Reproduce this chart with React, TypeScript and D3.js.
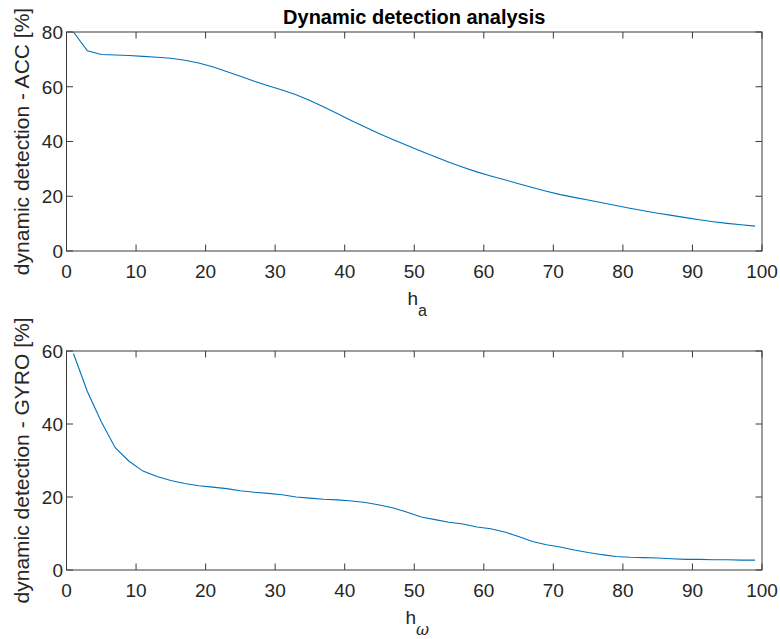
import React from "react";
import * as d3 from "d3";

// Threshold values h (shared by both panels)
const hValues = [
  1, 3, 5, 7, 9, 11, 13, 15, 17, 19, 21, 23, 25, 27, 29, 31, 33, 35, 37, 39,
  41, 43, 45, 47, 49, 51, 53, 55, 57, 59, 61, 63, 65, 67, 69, 71, 73, 75, 77, 79,
  81, 83, 85, 87, 89, 91, 93, 95, 97, 99,
];

// Dynamic detection rate [%] using the accelerometer threshold h_a
const accDetection = [
  80.0, 73.1, 71.8, 71.6, 71.4, 71.1, 70.8, 70.4, 69.7, 68.7,
  67.3, 65.6, 63.8, 62.0, 60.4, 58.8, 57.1, 55.0, 52.6, 50.1,
  47.6, 45.2, 42.8, 40.6, 38.5, 36.4, 34.4, 32.4, 30.6, 28.9,
  27.4, 26.0, 24.6, 23.2, 21.8, 20.6, 19.6, 18.6, 17.6, 16.6,
  15.6, 14.7, 13.8, 13.0, 12.2, 11.4, 10.7, 10.1, 9.6, 9.1,
];

// Dynamic detection rate [%] using the gyroscope threshold h_ω
const gyroDetection = [
  59.3, 48.9, 40.6, 33.5, 29.8, 27.1, 25.6, 24.5, 23.7, 23.1,
  22.7, 22.3, 21.7, 21.3, 21.0, 20.6, 20.0, 19.7, 19.4, 19.2,
  18.9, 18.5, 17.8, 17.0, 15.8, 14.5, 13.8, 13.1, 12.6, 11.8,
  11.3, 10.4, 9.2, 7.8, 6.9, 6.3, 5.5, 4.8, 4.2, 3.7,
  3.5, 3.4, 3.3, 3.1, 2.9, 2.9, 2.8, 2.8, 2.7, 2.7,
];

const xTicks = [0, 10, 20, 30, 40, 50, 60, 70, 80, 90, 100];
const accTicks = [0, 20, 40, 60, 80];
const gyroTicks = [0, 20, 40, 60];

const W = 780;
const H = 639;
const FONT = '"Liberation Sans", Arial, Helvetica, sans-serif';
const INK = "#262626";
const AXIS = "#3a3a3a";
const LINE = "#0072BD";
const TICK_LEN = 6.5;

const LEFT = 66.5;
const RIGHT = 762;

type PanelProps = {
  top: number;
  bottom: number;
  yMax: number;
  yTicks: number[];
  values: number[];
  yLabel: string;
  xSub: string;
  subItalic?: boolean;
  subFont: string;
};

function Panel({ top, bottom, yMax, yTicks, values, yLabel, xSub, subItalic, subFont }: PanelProps) {
  const x = d3.scaleLinear().domain([0, 100]).range([LEFT, RIGHT]);
  const y = d3.scaleLinear().domain([0, yMax]).range([bottom, top]);
  const line = d3
    .line<number>()
    .x((_, i) => x(hValues[i]))
    .y((d) => y(d));
  const midY = (top + bottom) / 2;
  const midX = (LEFT + RIGHT) / 2;

  return (
    <g>
      <path d={line(values) ?? ""} fill="none" stroke={LINE} strokeWidth={1.1} />
      {/* box */}
      <rect
        x={LEFT}
        y={top}
        width={RIGHT - LEFT}
        height={bottom - top}
        fill="none"
        stroke={AXIS}
        strokeWidth={1}
      />
      {/* x ticks, bottom and top, pointing inward */}
      {xTicks.map((t) => (
        <g key={`x${t}`}>
          <line x1={x(t)} x2={x(t)} y1={bottom} y2={bottom - TICK_LEN} stroke={AXIS} />
          <line x1={x(t)} x2={x(t)} y1={top} y2={top + TICK_LEN} stroke={AXIS} />
          <text
            x={x(t)}
            y={bottom + 27}
            textAnchor="middle"
            fontFamily={FONT}
            fontSize={19}
            fill={INK}
          >
            {t}
          </text>
        </g>
      ))}
      {/* y ticks, left and right */}
      {yTicks.map((t) => (
        <g key={`y${t}`}>
          <line x1={LEFT} x2={LEFT + TICK_LEN} y1={y(t)} y2={y(t)} stroke={AXIS} />
          <line x1={RIGHT} x2={RIGHT - TICK_LEN} y1={y(t)} y2={y(t)} stroke={AXIS} />
          <text
            x={LEFT - 3.5}
            y={y(t)}
            dy="0.36em"
            textAnchor="end"
            fontFamily={FONT}
            fontSize={19}
            fill={INK}
          >
            {t}
          </text>
        </g>
      ))}
      {/* x label h with subscript */}
      <text x={midX + 3} y={bottom + 54} textAnchor="middle" fontFamily={FONT} fontSize={19} fill={INK}>
        <tspan>h</tspan>
        <tspan
          dy={11}
          fontSize={16}
          fontStyle={subItalic ? "italic" : "normal"}
          fontFamily={subFont}
        >
          {xSub}
        </tspan>
      </text>
      {/* y label */}
      <text
        transform={`translate(28.5, ${midY}) rotate(-90)`}
        textAnchor="middle"
        fontFamily={FONT}
        fontSize={21}
        fill={INK}
      >
        {yLabel}
      </text>
    </g>
  );
}

export default function App() {
  return (
    <svg
      width={W}
      height={H}
      viewBox={`0 0 ${W} ${H}`}
      style={{ position: "absolute", left: 0, top: 0, background: "#ffffff" }}
    >
      <rect width={W} height={H} fill="#ffffff" />
      <text
        x={(LEFT + RIGHT) / 2}
        y={24}
        textAnchor="middle"
        fontFamily={FONT}
        fontSize={20}
        fontWeight="bold"
        fill="#000000"
      >
        Dynamic detection analysis
      </text>
      <Panel
        top={32}
        bottom={251}
        yMax={80}
        yTicks={accTicks}
        values={accDetection}
        yLabel="dynamic detection - ACC [%]"
        xSub="a"
        subFont={FONT}
      />
      <Panel
        top={351}
        bottom={570}
        yMax={60}
        yTicks={gyroTicks}
        values={gyroDetection}
        yLabel="dynamic detection - GYRO [%]"
        xSub="ω"
        subItalic
        subFont={'"DejaVu Serif", serif'}
      />
    </svg>
  );
}
